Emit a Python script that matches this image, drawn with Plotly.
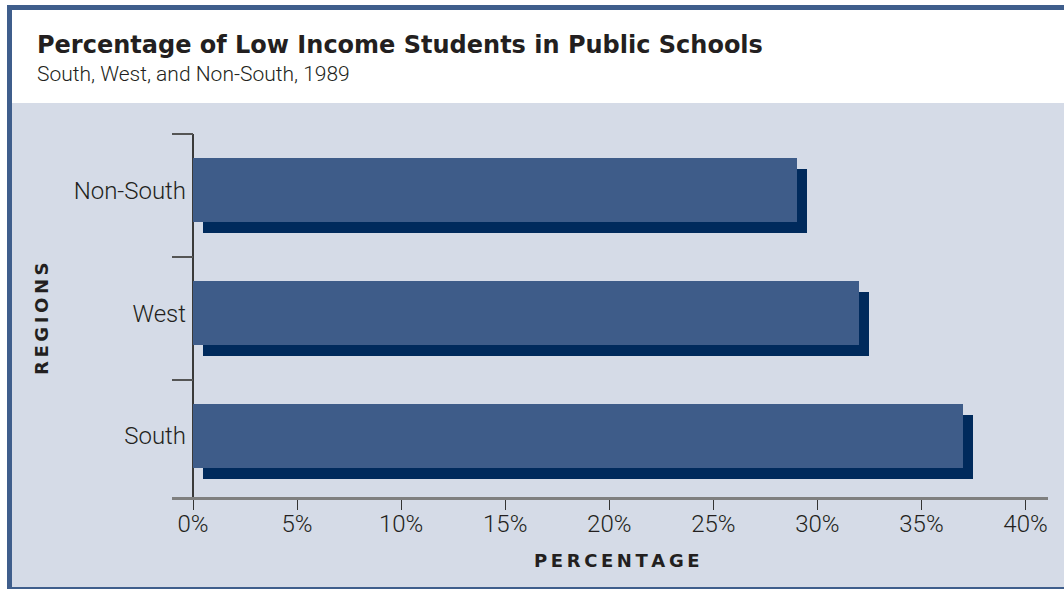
import plotly.graph_objects as go

# ---- data ----
categories = ["South", "West", "Non-South"]
values = [37, 32, 29]
x_tickvals = [0, 5, 10, 15, 20, 25, 30, 35, 40]
x_ticktext = ["0%", "5%", "10%", "15%", "20%", "25%", "30%", "35%", "40%"]
title_text = "Percentage of Low Income Students in Public Schools"
subtitle_text = "South, West, and Non-South, 1989"
x_title = "PERCENTAGE"
y_title = "REGIONS"

# ---- layout geometry (body margin removed via post_script) ----
OFF = 0
W, H = 1064, 589
ML, MR, MT, MB = 172, 16, 134, 92
PW, PH = W - ML - MR, H - MT - MB

def px_x(p):
    return (p - OFF - ML) / PW

def px_y(p):
    return (H - MB - (p - OFF)) / PH

BAR_W = 0.52
MAIN_OFF = 0.0427
SHADOW_SHIFT = 0.5

pos = list(range(len(categories)))
main_y = [p + MAIN_OFF for p in pos]
shadow_y = [p - MAIN_OFF for p in pos]
boundaries = [p + 0.5 for p in pos]

TXT = "#231f20"
MAIN = "#3e5c89"
SHADOW = "#002a5c"
BG = "#d5dbe7"
FRAME = "#3f5e8c"

fig = go.Figure()
fig.add_trace(go.Bar(x=values, y=shadow_y, base=SHADOW_SHIFT, orientation="h",
                     width=BAR_W, marker=dict(color=SHADOW, line=dict(width=0)),
                     hoverinfo="skip", showlegend=False))
fig.add_trace(go.Bar(x=values, y=main_y, orientation="h", width=BAR_W,
                     marker=dict(color=MAIN, line=dict(width=0)),
                     showlegend=False))

fig.update_layout(
    width=W, height=H,
    margin=dict(l=ML, r=MR, t=MT, b=MB, pad=0),
    paper_bgcolor="white",
    plot_bgcolor="rgba(0,0,0,0)",
    barmode="overlay",
    bargap=0,
    xaxis=dict(
        range=[-1.01, 41.08], tickvals=x_tickvals, ticktext=x_ticktext,
        ticks="outside", ticklen=10, tickwidth=1.2, tickcolor="#333333",
        showline=True, linecolor="#7f7f7f", linewidth=2.5,
        zeroline=True, zerolinecolor="#3a3a3a", zerolinewidth=1.5,
        showgrid=False, fixedrange=True, ticklabelstandoff=-7,
        tickfont=dict(family="Roboto", size=24, color=TXT, weight=300),
    ),
    yaxis=dict(
        range=[-0.453, 2.5], tickvals=main_y, ticktext=categories,
        ticks="", showline=False, showgrid=False, zeroline=False,
        ticklabelstandoff=-15, fixedrange=True,
        tickfont=dict(family="Roboto", size=24, color=TXT, weight=300),
        minor=dict(tickmode="array", tickvals=boundaries, ticks="inside",
                   ticklen=21, tickwidth=1.5, tickcolor="#555555", showgrid=False),
    ),
    shapes=[
        dict(type="rect", xref="paper", yref="paper", layer="below",
             x0=px_x(7), x1=px_x(1090), y0=px_y(5), y1=px_y(600),
             fillcolor=FRAME, line=dict(width=0)),
        dict(type="rect", xref="paper", yref="paper", layer="below",
             x0=px_x(12), x1=px_x(1090), y0=px_y(10), y1=px_y(103),
             fillcolor="white", line=dict(width=0)),
        dict(type="rect", xref="paper", yref="paper", layer="below",
             x0=px_x(12), x1=px_x(1090), y0=px_y(103), y1=px_y(587),
             fillcolor=BG, line=dict(width=0)),
    ],
    annotations=[
        dict(text=title_text, xref="paper", yref="paper", x=px_x(35), y=px_y(45),
             xanchor="left", yanchor="middle", showarrow=False,
             font=dict(family="DejaVu Sans", size=24, color=TXT, weight="bold")),
        dict(text=subtitle_text, xref="paper", yref="paper", x=px_x(35), y=px_y(74),
             xanchor="left", yanchor="middle", showarrow=False,
             font=dict(family="Roboto", size=21, color=TXT, weight=300)),
        dict(text="\u2009".join(y_title), xref="paper", yref="paper",
             x=px_x(41), y=px_y(319), textangle=-90,
             xanchor="center", yanchor="middle", showarrow=False,
             font=dict(family="DejaVu Sans", size=18, color=TXT, weight="bold")),
        dict(text="\u2009".join(x_title), xref="paper", yref="paper",
             x=px_x(617), y=px_y(560),
             xanchor="center", yanchor="middle", showarrow=False,
             font=dict(family="DejaVu Sans", size=18, color=TXT, weight="bold")),
    ],
)

fig.write_html("out.html", config={"displayModeBar": False},
               post_script="document.body.style.margin='0';")
